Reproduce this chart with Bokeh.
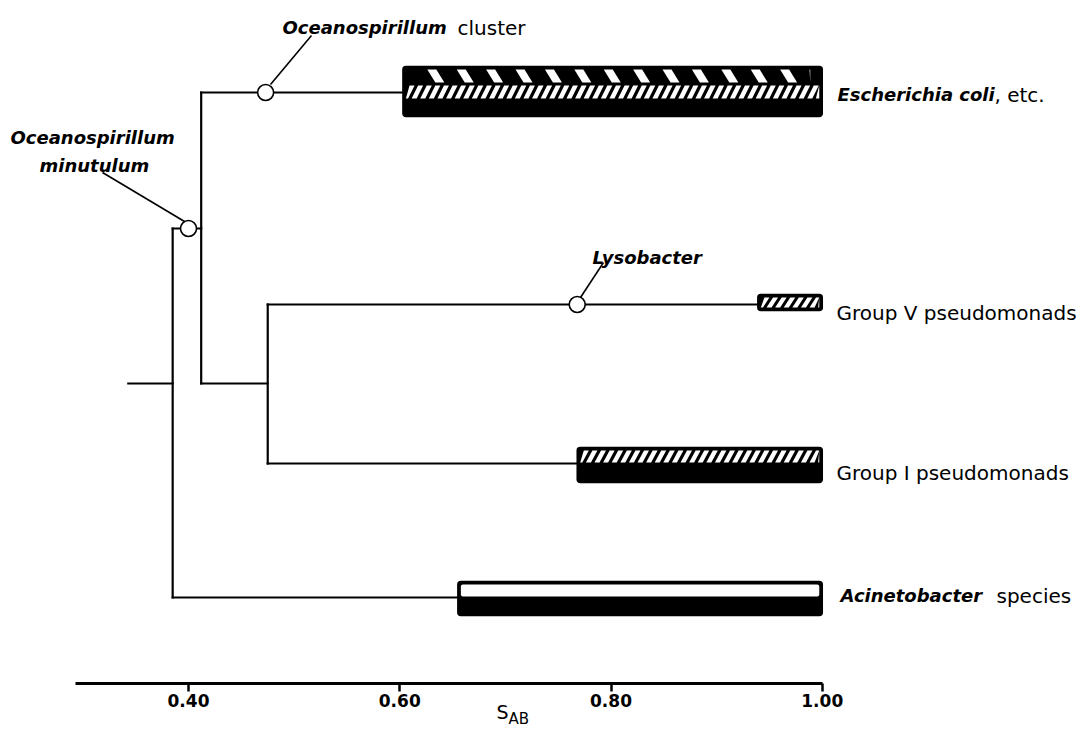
import numpy as np
from bokeh.plotting import figure
from bokeh.models import Range1d, FixedTicker, Label
from bokeh.core.properties import value
from bokeh.embed import file_html
from bokeh.resources import INLINE

# ---------------- data (S_AB similarity values) ----------------
taxa = ["Escherichia coli", "Group V pseudomonads", "Group I pseudomonads", "Acinetobacter species"]
bar_left = [0.603, 0.939, 0.768, 0.655]
bar_right = [1.00, 1.00, 1.00, 1.00]
stub_x = 0.343
root_x = 0.385
nodeA_x = 0.412
nodeB_x = 0.475
circle_names = ["Oceanospirillum minutulum", "Oceanospirillum cluster", "Lysobacter"]
circle_x = [0.400, 0.473, 0.768]
ticks = [0.40, 0.60, 0.80, 1.00]
tick_labels = ["0.40", "0.60", "0.80", "1.00"]
axis_min = 0.293

# ---------------- layout ----------------
W, H = 1089, 729
X0, X1 = 0.222, 1.253
PX = (X1 - X0) / W          # value per pixel
AXIS_Y = 683


def px(n):
    return n * PX


def vx(pix):
    return X0 + pix * PX


def xpix(v):
    return (v - X0) / PX


row_y = [92, 304, 463, 597]
mini_y = 228
stub_y = 383

p = figure(width=W, height=H, output_backend="svg", toolbar_location=None,
           x_range=Range1d(X0, X1), y_range=Range1d(H, 0),
           y_axis_location=None, x_axis_location="below",
           min_border_left=0, min_border_right=0, min_border_top=0,
           min_border_bottom=0)
p.grid.visible = False
p.outline_line_color = None
p.background_fill_color = "white"
p.border_fill_color = "white"

# ---------------- tree ----------------
x0s = [stub_x, root_x, root_x, nodeA_x, nodeA_x, nodeB_x, nodeA_x, nodeB_x, nodeB_x, root_x]
y0s = [stub_y, mini_y, mini_y, row_y[0], stub_y, row_y[1], row_y[0], row_y[1], row_y[2], row_y[3]]
x1s = [root_x, root_x, nodeA_x, nodeA_x, nodeB_x, nodeB_x, bar_left[0], bar_left[1], bar_left[2], bar_left[3]]
y1s = [stub_y, row_y[3], mini_y, stub_y, stub_y, row_y[2], row_y[0], row_y[1], row_y[2], row_y[3]]
p.segment(x0=x0s, y0=y0s, x1=x1s, y1=y1s, line_color="black", line_width=2.2,
          line_cap="square")

# leader lines
p.segment(x0=[vx(270), vx(580), vx(102)], y0=[84, 297, 172],
          x1=[vx(311), vx(603), vx(184)], y1=[35, 262, 221],
          line_color="black", line_width=1.6)

# circles
p.scatter(x=circle_x, y=[mini_y, row_y[0], row_y[1]], size=16, marker="circle",
          fill_color="white", line_color="black", line_width=1.6)

# ---------------- bars ----------------
outer_top = [66, 294, 447, 581]
outer_bot = [116, 310, 482, 615]
p.quad(left=bar_left, right=bar_right, top=outer_top, bottom=outer_bot,
       fill_color="black", line_color="black", line_width=1.5, border_radius=3)


def stripes(v_left, v_right, top, bot, period, width, slant, forward=True, inset=4):
    """white parallelogram stripes inside a band, returned in data units"""
    L = xpix(v_left) + inset
    R = xpix(v_right) - inset
    xs, ys = [], []
    x = L - slant - width
    while x < R:
        px_ = [x, x + width, x + width + slant, x + slant]
        py_ = [bot, bot, top, top] if forward else [top, top, bot, bot]
        cl = list(np.clip(px_, L, R))
        if cl[1] - cl[0] > 0.5 or cl[2] - cl[3] > 0.5:
            xs.append([vx(c) for c in cl])
            ys.append(py_)
        x += period
    return xs, ys


sx, sy = [], []
# E. coli: wide "\" stripes in top band
a, b = stripes(bar_left[0], bar_right[0], 69, 82, 29.4, 9, 8, forward=False, inset=12)
sx += a; sy += b
# fine "/" hatch in E. coli, Group V and Group I
for i, (t, bt) in zip([0, 1, 2], [(85, 98), (297, 307), (450, 462)]):
    a, b = stripes(bar_left[i], bar_right[i], t, bt, 8.6, 5.0, 6.5, forward=True, inset=3)
    sx += a; sy += b
p.patches(xs=sx, ys=sy, fill_color="white", line_color=None)

# Acinetobacter open band
p.quad(left=[bar_left[3] + px(3)], right=[bar_right[3] - px(3)], top=[584], bottom=[596],
       fill_color="white", line_color=None, border_radius=2)

# ---------------- texts ----------------
ITAL = dict(text_font=value("DejaVu Sans"), text_font_style="bold italic",
            text_font_size="18px", text_color="black", text_baseline="alphabetic")
REG = dict(text_font=value("DejaVu Sans"), text_font_style="normal",
           text_font_size="20px", text_color="black", text_baseline="alphabetic")

p.text(x=[vx(837), vx(840)], y=[94, 595], text=["Escherichia coli", "Acinetobacter"], **ITAL)
p.text(x=[vx(994), vx(996)], y=[94, 595], text=[", etc.", "species"], **REG)
p.text(x=[vx(836), vx(836)], y=[312, 472], text=["Group V pseudomonads", "Group I pseudomonads"], **REG)

p.text(x=[vx(282), vx(10), vx(592)], y=[27, 137, 257],
       text=["Oceanospirillum", "Oceanospirillum", "Lysobacter"], **ITAL)
p.text(x=[vx(39)], y=[165], text=["minutulum"], **ITAL)
p.text(x=[vx(457)], y=[27], text=["cluster"], **REG)

# ---------------- axis ----------------
ax = p.xaxis[0]
ax.fixed_location = AXIS_Y
ax.ticker = FixedTicker(ticks=ticks)
ax.major_label_overrides = {t: l for t, l in zip(ticks, tick_labels)}
ax.bounds = (axis_min, 1.0)
ax.axis_line_width = 3
ax.axis_line_color = "black"
ax.major_tick_line_width = 2.5
ax.major_tick_out = 8
ax.major_tick_in = 0
ax.minor_tick_line_color = None
ax.major_label_standoff = 2
ax.major_label_text_font = "DejaVu Sans"
ax.major_label_text_font_style = "bold"
ax.major_label_text_font_size = "17px"
ax.major_label_text_color = "black"

p.add_layout(Label(x=vx(496), y=711, text="S", text_font="DejaVu Sans",
                   text_font_size="19px", text_baseline="alphabetic", text_color="black"))
p.add_layout(Label(x=vx(508), y=718, text="AB", text_font="DejaVu Sans",
                   text_font_size="15px", text_baseline="alphabetic", text_color="black"))

open("out.html", "w").write(file_html(p, INLINE))
